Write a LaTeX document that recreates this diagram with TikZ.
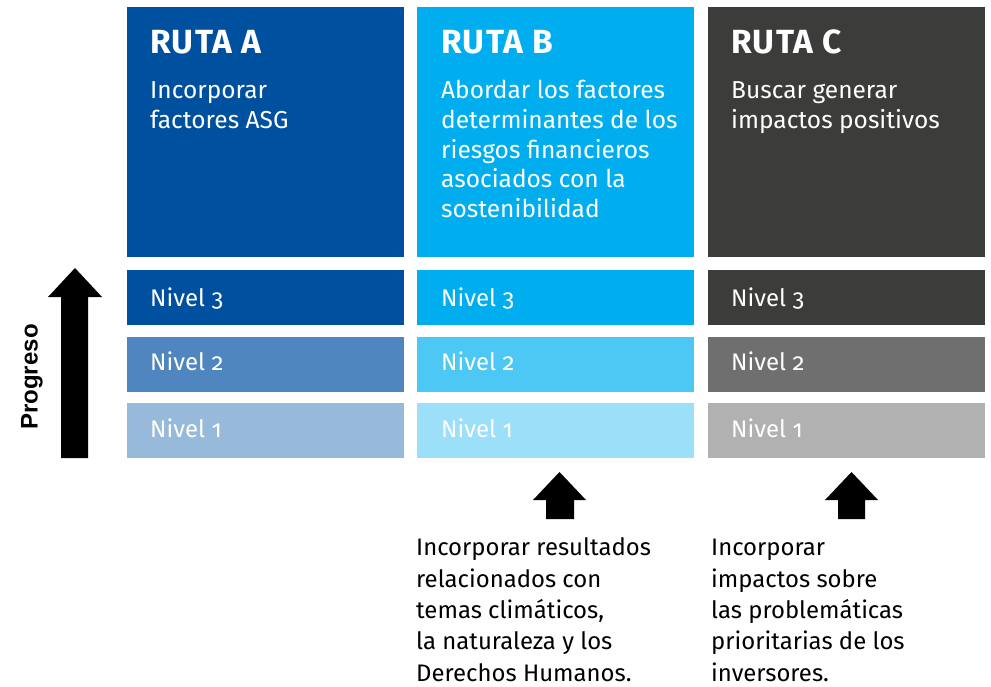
\documentclass[tikz,border=0pt]{standalone}
\usepackage{fontspec}
\setmainfont[Numbers=OldStyle]{Fira Sans}
\newfontfamily\titlefont[LetterSpace=4.0]{Fira Sans}
\newfontfamily\progfont{Liberation Sans}
\definecolor{aone}{HTML}{97B9DA}
\definecolor{atwo}{HTML}{4F86C0}
\definecolor{athree}{HTML}{0050A0}
\definecolor{bone}{HTML}{9CDFF8}
\definecolor{btwo}{HTML}{4DC8F5}
\definecolor{bthree}{HTML}{00AEEF}
\definecolor{cone}{HTML}{B1B1B1}
\definecolor{ctwo}{HTML}{6F6F6F}
\definecolor{cthree}{HTML}{3C3C3B}
\begin{document}
\begin{tikzpicture}[x=1pt,y=-1pt,
  box/.style={draw=none,rectangle,inner sep=0,anchor=north west,minimum width=277pt},
  topbox/.style={box,minimum height=250pt},
  lvlbox/.style={box,minimum height=55pt},
  title/.style={anchor=base west,inner sep=0,text=white,font=\titlefont\bfseries\fontsize{33.5}{38}\selectfont},
  sub/.style={anchor=base west,inner sep=0,text=white,align=left,font=\fontsize{24.5}{29.6}\selectfont},
  lvl/.style={anchor=base west,inner sep=0,text=white,font=\fontsize{24}{28}\selectfont},
  note/.style={anchor=base west,inner sep=0,text=black,align=left,font=\fontsize{23.9}{31.3}\selectfont},
  bigarrow/.style={fill=black}
]
\useasboundingbox (0,0) rectangle (991,687);
% top boxes
\node[topbox,fill=athree] (ta) at (127,7) {};
\node[topbox,fill=bthree] (tb) at (417,7) {};
\node[topbox,fill=cthree] (tc) at (708,7) {};
% level boxes
\node[lvlbox,fill=athree] (a3) at (127,270) {};
\node[lvlbox,fill=atwo]   (a2) at (127,337) {};
\node[lvlbox,fill=aone]   (a1) at (127,403) {};
\node[lvlbox,fill=bthree] (b3) at (417,270) {};
\node[lvlbox,fill=btwo]   (b2) at (417,337) {};
\node[lvlbox,fill=bone]   (b1) at (417,403) {};
\node[lvlbox,fill=cthree] (c3) at (708,270) {};
\node[lvlbox,fill=ctwo]   (c2) at (708,337) {};
\node[lvlbox,fill=cone]   (c1) at (708,403) {};
% titles
\node[title] (tta) at (150,54) {RUTA A};
\node[title] (ttb) at (441,54) {RUTA B};
\node[title] (ttc) at (731,54) {RUTA C};
% subtitles (anchored at the baseline of their last line)
\node[sub] (sa) at (150,128.6) {Incorporar\\factores ASG};
\node[sub] (sb) at (441,217.4) {Abordar los factores\\determinantes de los\\riesgos financieros\\asociados con la\\sostenibilidad};
\node[sub] (sc) at (731,128.6) {Buscar generar\\impactos positivos};
% level labels
\foreach \c/\x in {a/150,b/441,c/731}{
  \node[lvl] (l\c3) at (\x,306.5) {Nivel 3};
  \node[lvl] (l\c2) at (\x,370.5) {Nivel 2};
  \node[lvl] (l\c1) at (\x,437) {Nivel 1};
}
% progress arrow
\fill[bigarrow] (61,458) -- (61,297) -- (48,297) -- (75,268) -- (102,297) -- (88,297) -- (88,458) -- cycle;
\node[rotate=90,anchor=base,inner sep=0,font=\progfont\bfseries\fontsize{24}{28}\selectfont] (prog) at (37.5,377) {Progreso};
% small arrows
\fill[bigarrow] (546,519) -- (546,500) -- (533,500) -- (559.5,472) -- (586,500) -- (574,500) -- (574,519) -- cycle;
\fill[bigarrow] (838,519) -- (838,500) -- (825,500) -- (851.5,472) -- (878,500) -- (865,500) -- (865,519) -- cycle;
% notes (anchored at the baseline of their last line)
\node[note] (nb) at (416,681) {Incorporar resultados\\relacionados con\\temas climáticos,\\la naturaleza y los\\Derechos Humanos.};
\node[note] (nc) at (711,681) {Incorporar\\impactos sobre\\las problemáticas\\prioritarias de los\\inversores.};
\end{tikzpicture}
\end{document}
